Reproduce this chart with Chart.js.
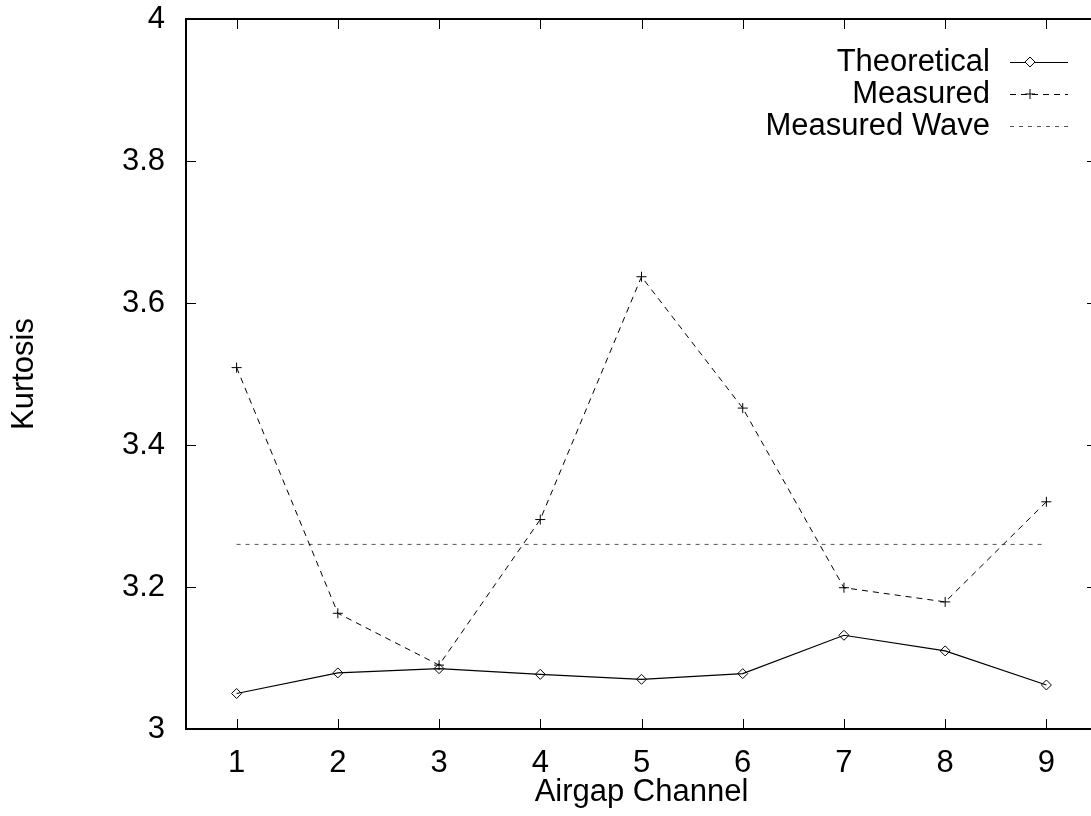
<!DOCTYPE html>
<html>
<head>
<meta charset="utf-8">
<title>Kurtosis by Airgap Channel</title>
<script src="https://cdn.jsdelivr.net/npm/chart.js@4.4.1/dist/chart.umd.min.js"></script>
<style>
  html, body { margin: 0; padding: 0; background: #fff; overflow: hidden; }
  #wrap { width: 1110px; height: 816px; }
</style>
</head>
<body>
<div id="wrap"><canvas id="kurtChart"></canvas></div>
<script>
// ---- Data ----
const channels = [1, 2, 3, 4, 5, 6, 7, 8, 9];
const theoretical = [3.050, 3.079, 3.085, 3.077, 3.070, 3.078, 3.132, 3.110, 3.062];
const measured = [3.509, 3.163, 3.090, 3.295, 3.637, 3.452, 3.199, 3.179, 3.320];
const measuredWave = [3.26, 3.26, 3.26, 3.26, 3.26, 3.26, 3.26, 3.26, 3.26];
const xTicks = [1, 2, 3, 4, 5, 6, 7, 8, 9];
const yTicks = [3, 3.2, 3.4, 3.6, 3.8, 4];

const FONT = '"Liberation Sans", Arial, Helvetica, sans-serif';
Chart.defaults.font.family = FONT;
Chart.defaults.font.size = 31;
Chart.defaults.color = '#000';

const toPoints = ys => channels.map((x, i) => ({ x: x, y: ys[i] }));

// gnuplot-like box: frame plus inward ticks on all four sides
const frameBox = {
  id: 'frameBox',
  afterDraw(chart) {
    const { ctx, chartArea: a, scales } = chart;
    const len = 10;
    ctx.save();
    ctx.strokeStyle = '#000';
    ctx.lineWidth = 1;
    ctx.beginPath();
    scales.x.ticks.forEach(t => {
      const px = Math.round(scales.x.getPixelForValue(t.value)) + 0.5;
      ctx.moveTo(px, a.bottom); ctx.lineTo(px, a.bottom - len);
      ctx.moveTo(px, a.top); ctx.lineTo(px, a.top + len);
    });
    scales.y.ticks.forEach(t => {
      const py = Math.round(scales.y.getPixelForValue(t.value)) + 0.5;
      ctx.moveTo(a.left, py); ctx.lineTo(a.left + len, py);
      ctx.moveTo(a.right, py); ctx.lineTo(a.right - len, py);
    });
    ctx.stroke();
    ctx.lineWidth = 2;
    ctx.strokeRect(a.left, a.top, a.right - a.left, a.bottom - a.top);
    ctx.restore();
  }
};

// key in the top right corner: label on the left, line sample on the right
const keyBox = {
  id: 'keyBox',
  afterDraw(chart, args, opts) {
    const { ctx } = chart;
    ctx.save();
    ctx.font = `31px ${FONT}`;
    ctx.textAlign = 'right';
    ctx.textBaseline = 'middle';
    chart.data.datasets.forEach((ds, i) => {
      const y = opts.top + i * opts.rowHeight;
      ctx.fillStyle = '#000';
      ctx.fillText(ds.label, opts.textRight, y);
      ctx.strokeStyle = ds.borderColor;
      ctx.lineWidth = 1;
      ctx.setLineDash(ds.borderDash || []);
      ctx.beginPath();
      ctx.moveTo(opts.lineStart, y + 0.5);
      ctx.lineTo(opts.lineEnd, y + 0.5);
      ctx.stroke();
      ctx.setLineDash([]);
      const r = ds.pointRadius;
      if (r > 0) {
        const mx = opts.markX;
        ctx.strokeStyle = '#000';
        ctx.fillStyle = '#fff';
        ctx.beginPath();
        if (ds.pointStyle === 'rectRot') {
          ctx.moveTo(mx, y - r); ctx.lineTo(mx + r, y);
          ctx.lineTo(mx, y + r); ctx.lineTo(mx - r, y);
          ctx.closePath();
          ctx.fill();
        } else {
          ctx.moveTo(mx - r, y); ctx.lineTo(mx + r, y);
          ctx.moveTo(mx, y - r); ctx.lineTo(mx, y + r);
        }
        ctx.stroke();
      }
    });
    ctx.restore();
  }
};

const ctx = document.getElementById('kurtChart').getContext('2d');
new Chart(ctx, {
  type: 'line',
  data: {
    datasets: [
      {
        label: 'Theoretical',
        data: toPoints(theoretical),
        borderColor: '#000',
        borderWidth: 1.2,
        pointStyle: 'rectRot',
        pointRadius: 5,
        pointBorderWidth: 1,
        pointBorderColor: '#000',
        pointBackgroundColor: 'rgba(0,0,0,0)',
        tension: 0
      },
      {
        label: 'Measured',
        data: toPoints(measured),
        borderColor: '#000',
        borderWidth: 1,
        borderDash: [6, 5],
        pointStyle: 'cross',
        pointRadius: 5,
        pointBorderWidth: 1,
        pointBorderColor: '#000',
        tension: 0
      },
      {
        label: 'Measured Wave',
        data: toPoints(measuredWave),
        borderColor: '#555',
        borderWidth: 1,
        borderDash: [4, 5],
        pointRadius: 0,
        tension: 0
      }
    ]
  },
  options: {
    responsive: true,
    maintainAspectRatio: false,
    animation: false,
    layout: { padding: { top: 19, right: 13, left: 0, bottom: 0 } },
    plugins: {
      legend: { display: false },
      tooltip: { enabled: false },
      keyBox: { top: 62, rowHeight: 32, textRight: 990, lineStart: 1010, lineEnd: 1068, markX: 1030 }
    },
    scales: {
      x: {
        type: 'linear',
        min: 0.5,
        max: 9.5,
        grid: { display: false, drawTicks: false },
        border: { display: false },
        ticks: { padding: 16, font: { size: 31 }, color: '#000' },
        title: { display: true, text: 'Airgap Channel', font: { size: 31 }, color: '#000', padding: { top: 0, bottom: 5 } },
        afterBuildTicks: s => { s.ticks = xTicks.map(v => ({ value: v })); },
        afterFit: s => { s.height = 87; s.paddingLeft = 0; s.paddingRight = 0; }
      },
      y: {
        type: 'linear',
        min: 3,
        max: 4,
        grid: { display: false, drawTicks: false },
        border: { display: false },
        ticks: { padding: 21, font: { size: 31 }, color: '#000', callback: v => String(v) },
        title: { display: true, text: 'Kurtosis', font: { size: 31 }, color: '#000', padding: { top: 6, bottom: 0 } },
        afterBuildTicks: s => { s.ticks = yTicks.map(v => ({ value: v })); },
        afterFit: s => { s.width = 186; s.paddingTop = 0; s.paddingBottom = 0; }
      }
    }
  },
  plugins: [frameBox, keyBox]
});
</script>
</body>
</html>
